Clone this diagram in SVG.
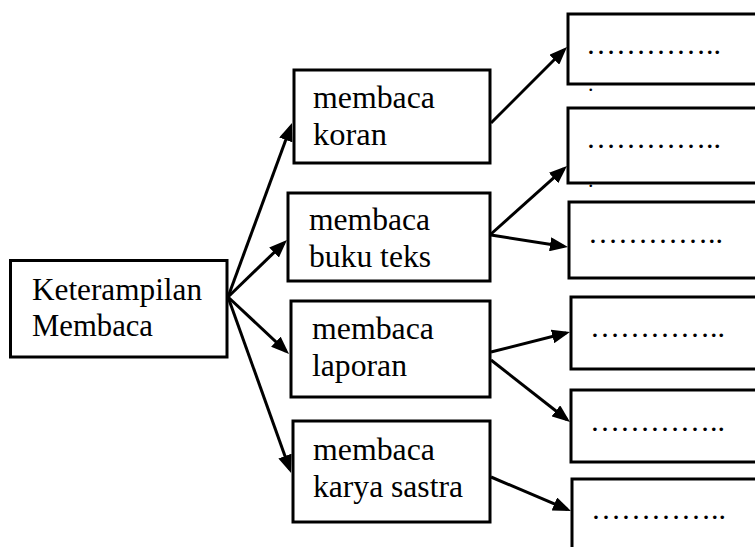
<svg xmlns="http://www.w3.org/2000/svg" width="755" height="547" viewBox="0 0 755 547">
<style>
.box{fill:#fff;stroke:#000;stroke-width:3}
.t{font-family:"Liberation Serif","Times New Roman",serif;font-size:31px;fill:#000}
.d{font-family:"Liberation Serif","Times New Roman",serif;font-size:30px;fill:#000}
.s{font-family:"Liberation Serif","Times New Roman",serif;font-size:22px;fill:#000}
.c{fill:none;stroke:#000;stroke-width:3}
</style>
<defs>
<marker id="ah" viewBox="0 0 18 14" refX="14" refY="7" markerWidth="18" markerHeight="14" markerUnits="userSpaceOnUse" orient="auto">
<path d="M0,0 L18,7 L0,14 z" fill="#000"/>
</marker>
</defs>
<g id="connectors">
<path class="c" marker-end="url(#ah)" d="M228,297 L290.6,126.8"/>
<path class="c" marker-end="url(#ah)" d="M228,297 L284.1,242.8"/>
<path class="c" marker-end="url(#ah)" d="M228,297 L286.1,351.3"/>
<path class="c" marker-end="url(#ah)" d="M228,297 L289.7,469.2"/>
<path class="c" marker-end="url(#ah)" d="M491,123 L564.2,49.8"/>
<path class="c" marker-end="url(#ah)" d="M491,234 L564,168.7"/>
<path class="c" marker-end="url(#ah)" d="M491,235 L564,246.4"/>
<path class="c" marker-end="url(#ah)" d="M491,352 L566.1,333"/>
<path class="c" marker-end="url(#ah)" d="M491,360 L566.9,419.5"/>
<path class="c" marker-end="url(#ah)" d="M491,477 L567.3,509.4"/>
</g>
<g id="main">
<rect class="box" x="10.5" y="260.5" width="216.5" height="96.5"/>
<text class="t" x="32" y="300" textLength="170" lengthAdjust="spacingAndGlyphs">Keterampilan</text>
<text class="t" x="32" y="336" textLength="121" lengthAdjust="spacingAndGlyphs">Membaca</text>
</g>
<g id="koran">
<rect class="box" x="294" y="70" width="196" height="93"/>
<text class="t" x="313" y="108" textLength="122" lengthAdjust="spacingAndGlyphs">membaca</text>
<text class="t" x="313" y="145" textLength="74" lengthAdjust="spacingAndGlyphs">koran</text>
</g>
<g id="bukuteks">
<rect class="box" x="288" y="193" width="202" height="88"/>
<text class="t" x="309" y="230" textLength="121" lengthAdjust="spacingAndGlyphs">membaca</text>
<text class="t" x="309" y="267" textLength="122" lengthAdjust="spacingAndGlyphs">buku teks</text>
</g>
<g id="laporan">
<rect class="box" x="291" y="301" width="199" height="96"/>
<text class="t" x="312" y="339" textLength="122" lengthAdjust="spacingAndGlyphs">membaca</text>
<text class="t" x="312" y="376" textLength="95" lengthAdjust="spacingAndGlyphs">laporan</text>
</g>
<g id="karyasastra">
<rect class="box" x="293" y="421" width="197" height="101"/>
<text class="t" x="313" y="460" textLength="122" lengthAdjust="spacingAndGlyphs">membaca</text>
<text class="t" x="313" y="497" textLength="150" lengthAdjust="spacingAndGlyphs">karya sastra</text>
</g>
<g id="out1">
<rect class="box" x="568" y="14" width="200" height="70"/>
<text class="d" x="586" y="54">…………..</text>
<text class="s" x="588" y="91">.</text>
</g>
<g id="out2">
<rect class="box" x="568" y="108" width="200" height="75"/>
<text class="d" x="586" y="148">…………..</text>
<text class="s" x="588" y="187">.</text>
</g>
<g id="out3">
<rect class="box" x="569" y="202" width="200" height="76"/>
<text class="d" x="588" y="243">…………..</text>
</g>
<g id="out4">
<rect class="box" x="571" y="297" width="200" height="72"/>
<text class="d" x="590" y="337">…………..</text>
</g>
<g id="out5">
<rect class="box" x="571" y="390" width="200" height="72"/>
<text class="d" x="590" y="431">…………..</text>
</g>
<g id="out6">
<rect class="box" x="572" y="479" width="200" height="100"/>
<text class="d" x="591" y="519">…………..</text>
</g>
</svg>
